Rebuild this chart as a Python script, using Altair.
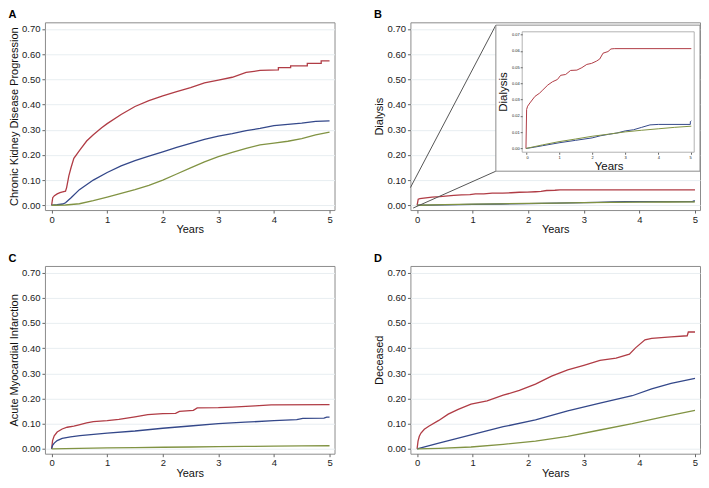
import altair as alt
import pandas as pd

# ---------------- data ----------------
# Panel A: Chronic Kidney Disease Progression
a_red_t = [0, 0.02, 0.05, 0.1, 0.15, 0.2, 0.25, 0.27, 0.31, 0.35, 0.4, 0.5, 0.63, 0.75, 0.9, 1.0, 1.25, 1.5, 1.75, 2.0, 2.25, 2.5, 2.75, 3.0, 3.25, 3.5, 3.75, 4.08, 4.08, 4.3, 4.3, 4.6, 4.6, 4.85, 4.85, 5.0]
a_red_v = [0, 0.03, 0.038, 0.045, 0.05, 0.053, 0.056, 0.07, 0.117, 0.15, 0.186, 0.217, 0.255, 0.28, 0.308, 0.324, 0.36, 0.392, 0.415, 0.434, 0.451, 0.467, 0.486, 0.497, 0.508, 0.527, 0.535, 0.537, 0.546, 0.546, 0.553, 0.553, 0.563, 0.563, 0.573, 0.573]
a_blue_t = [0, 0.1, 0.2, 0.25, 0.35, 0.5, 0.75, 1.0, 1.25, 1.5, 1.75, 2.0, 2.25, 2.5, 2.75, 3.0, 3.25, 3.5, 3.75, 4.0, 4.25, 4.5, 4.75, 5.0]
a_blue_v = [0, 0.002, 0.005, 0.01, 0.03, 0.062, 0.1, 0.13, 0.156, 0.177, 0.195, 0.212, 0.23, 0.246, 0.261, 0.274, 0.284, 0.296, 0.305, 0.316, 0.321, 0.326, 0.333, 0.335]
a_green_t = [0, 0.25, 0.5, 0.75, 1.0, 1.25, 1.5, 1.75, 2.0, 2.25, 2.5, 2.75, 3.0, 3.25, 3.5, 3.75, 4.0, 4.25, 4.5, 4.75, 5.0]
a_green_v = [0, 0.001, 0.006, 0.018, 0.032, 0.047, 0.062, 0.079, 0.1, 0.124, 0.148, 0.172, 0.193, 0.21, 0.226, 0.24, 0.247, 0.254, 0.264, 0.279, 0.29]

# Panel B: Dialysis (also shown in the inset)
b_red_t = [0, 0.02, 0.05, 0.12, 0.27, 0.41, 0.51, 0.66, 0.8, 0.95, 1.05, 1.2, 1.35, 1.54, 1.69, 1.84, 1.98, 2.13, 2.23, 2.33, 2.48, 2.57, 2.67, 5.0]
b_red_v = [0, 0.024, 0.026, 0.028, 0.032, 0.034, 0.036, 0.039, 0.041, 0.0424, 0.045, 0.0455, 0.048, 0.0482, 0.0497, 0.0517, 0.0523, 0.0537, 0.055, 0.0586, 0.0596, 0.0612, 0.0614, 0.0614]
b_blue_t = [0, 0.25, 0.5, 1.0, 1.5, 2.0, 2.25, 2.5, 2.75, 3.0, 3.25, 3.5, 3.75, 4.0, 4.97, 4.97, 5.0]
b_blue_v = [0, 0.0008, 0.0017, 0.0035, 0.005, 0.0065, 0.0078, 0.0087, 0.0095, 0.0108, 0.0115, 0.013, 0.0145, 0.0148, 0.0148, 0.0165, 0.017]
b_green_t = [0, 0.5, 1.0, 1.5, 2.0, 2.5, 3.0, 3.5, 4.0, 4.5, 5.0]
b_green_v = [0, 0.0022, 0.0042, 0.0058, 0.0075, 0.0088, 0.0102, 0.0112, 0.0121, 0.013, 0.0137]

# Panel C: Acute Myocardial Infarction
c_red_t = [0, 0.017, 0.047, 0.1, 0.19, 0.28, 0.4, 0.51, 0.63, 0.75, 1.0, 1.21, 1.5, 1.73, 2.0, 2.23, 2.3, 2.55, 2.62, 3.0, 3.25, 3.66, 3.95, 5.0]
c_red_v = [0, 0.033, 0.052, 0.067, 0.079, 0.086, 0.09, 0.096, 0.103, 0.108, 0.112, 0.117, 0.127, 0.136, 0.14, 0.141, 0.149, 0.153, 0.163, 0.164, 0.166, 0.171, 0.175, 0.176]
c_blue_t = [0, 0.017, 0.047, 0.1, 0.19, 0.34, 0.51, 1.0, 1.5, 2.0, 2.49, 3.0, 3.48, 4.0, 4.41, 4.52, 4.9, 4.95, 5.0]
c_blue_v = [0, 0.014, 0.023, 0.033, 0.042, 0.048, 0.053, 0.063, 0.071, 0.082, 0.091, 0.1, 0.106, 0.112, 0.116, 0.121, 0.122, 0.126, 0.126]
c_green_t = [0, 0.5, 1.0, 1.5, 2.0, 2.5, 3.0, 3.5, 4.0, 4.5, 5.0]
c_green_v = [0, 0.002, 0.004, 0.005, 0.0065, 0.0075, 0.0088, 0.0098, 0.011, 0.012, 0.0125]

# Panel D: Deceased
d_red_t = [0, 0.017, 0.04, 0.07, 0.13, 0.21, 0.39, 0.56, 0.74, 0.97, 1.26, 1.55, 1.84, 2.13, 2.42, 2.71, 3.0, 3.29, 3.58, 3.82, 3.93, 4.1, 4.22, 4.57, 4.86, 4.88, 5.0]
d_red_v = [0, 0.031, 0.05, 0.063, 0.078, 0.09, 0.113, 0.138, 0.157, 0.178, 0.191, 0.213, 0.232, 0.257, 0.289, 0.314, 0.332, 0.351, 0.36, 0.376, 0.401, 0.433, 0.439, 0.445, 0.449, 0.464, 0.464]
d_blue_t = [0, 0.39, 0.97, 1.55, 2.13, 2.71, 3.29, 3.87, 4.22, 4.57, 5.0]
d_blue_v = [0, 0.023, 0.056, 0.088, 0.115, 0.151, 0.182, 0.211, 0.238, 0.26, 0.28]
d_green_t = [0, 0.39, 0.97, 1.55, 2.13, 2.71, 3.29, 3.87, 4.45, 5.0]
d_green_v = [0, 0.0025, 0.0075, 0.018, 0.031, 0.05, 0.075, 0.1, 0.128, 0.153]

groups = ["red", "blue", "green"]
group_colors = ["#b03c45", "#34488a", "#819343"]
x_ticks = [0, 1, 2, 3, 4, 5]
y_ticks = [0.0, 0.1, 0.2, 0.3, 0.4, 0.5, 0.6, 0.7]
inset_y_ticks = [0.0, 0.01, 0.02, 0.03, 0.04, 0.05, 0.06, 0.07]

# ---------------- layout ----------------
FONT = "Liberation Sans"
W, H = 290, 188
XDOM = [-0.12, 5.09]
YDOM = [-0.019, 0.726]
FRAME = "#8c8c8c"


def long_df(series):
    rows = []
    for name, t, v in series:
        for i, (a, b) in enumerate(zip(t, v)):
            rows.append({"t": a, "v": b, "g": name, "i": i})
    return pd.DataFrame(rows)


color = alt.Color("g:N", scale=alt.Scale(domain=groups, range=group_colors), legend=None)
xscale = alt.Scale(domain=XDOM, nice=False, zero=False)
yscale = alt.Scale(domain=YDOM, nice=False, zero=False)


def x_axis():
    return alt.Axis(values=x_ticks, format="d", grid=False, title="Years", orient="bottom")


def y_axis(title):
    return alt.Axis(values=y_ticks, format=".2f", grid=True, title=title, orient="left")


def lines(df, ytitle):
    return alt.Chart(df).mark_line(strokeWidth=1.3, clip=True).encode(
        x=alt.X("t:Q", scale=xscale, axis=x_axis()),
        y=alt.Y("v:Q", scale=yscale, axis=y_axis(ytitle)),
        color=color,
        order="i:Q",
    )


def letter(s):
    return alt.Title(s, anchor="start", fontSize=11, fontWeight="bold", offset=2, font=FONT, color="#000")


dfA = long_df([("red", a_red_t, a_red_v), ("blue", a_blue_t, a_blue_v), ("green", a_green_t, a_green_v)])
dfB = long_df([("red", b_red_t, b_red_v), ("blue", b_blue_t, b_blue_v), ("green", b_green_t, b_green_v)])
dfC = long_df([("red", c_red_t, c_red_v), ("blue", c_blue_t, c_blue_v), ("green", c_green_t, c_green_v)])
dfD = long_df([("red", d_red_t, d_red_v), ("blue", d_blue_t, d_blue_v), ("green", d_green_t, d_green_v)])

panelA = lines(dfA, "Chronic Kidney Disease Progression").properties(width=W, height=H, title=letter("A"))
panelC = lines(dfC, "Acute Myocardial Infarction").properties(width=W, height=H, title=letter("C"))
panelD = lines(dfD, "Deceased").properties(width=W, height=H, title=letter("D"))

# ---- panel B with inset ----
# inset geometry as fractions of the plot area
box_x0, box_x1, box_y0, box_y1 = 0.295 * W, 1.0 * W, 0.015 * H, 0.793 * H
in_x0, in_x1, in_y0, in_y1 = 0.386 * W, 0.980 * W, 0.0505 * H, 0.692 * H
rng_x0, rng_x1 = 0.399 * W, 0.970 * W
rng_y0, rng_y1 = 0.672 * H, 0.0657 * H


def px_to_x(px):
    return XDOM[0] + px / W * (XDOM[1] - XDOM[0])


def px_to_y(py):
    return YDOM[1] - py / H * (YDOM[1] - YDOM[0])


zoom_df = pd.DataFrame({
    "x": [XDOM[0], -0.07],
    "y": [0.07, -0.011],
    "x2": [px_to_x(box_x0), px_to_x(box_x0)],
    "y2": [px_to_y(box_y0), px_to_y(box_y1)],
})

outerB = lines(dfB, "Dialysis")
zoom_rules = alt.Chart(zoom_df).mark_rule(color="#555555", strokeWidth=1).encode(
    x=alt.X("x:Q", scale=xscale, axis=x_axis()),
    x2="x2:Q",
    y=alt.Y("y:Q", scale=yscale, axis=y_axis("Dialysis")),
    y2="y2:Q",
)
one = pd.DataFrame({"k": [0]})
box = alt.Chart(one).mark_rect(fill="white", stroke=FRAME, strokeWidth=1).encode(
    x=alt.value(box_x0), x2=alt.value(box_x1), y=alt.value(box_y0), y2=alt.value(box_y1)
)
inner = alt.Chart(one).mark_rect(fill="white", stroke="#a0a0a0", strokeWidth=0.8).encode(
    x=alt.value(in_x0), x2=alt.value(in_x1), y=alt.value(in_y0), y2=alt.value(in_y1)
)
inset_lines = alt.Chart(dfB).mark_line(strokeWidth=1, clip=False).encode(
    x=alt.X("t:Q", scale=alt.Scale(domain=[0, 5], range=[rng_x0, rng_x1], nice=False, zero=False),
            axis=alt.Axis(values=x_ticks, format="d", grid=False, orient="bottom", offset=-(H - in_y1),
                          title="Years", titleFontSize=11.5, titlePadding=1, labelFontSize=4, tickSize=2,
                          labelPadding=1, domain=False, zindex=1)),
    y=alt.Y("v:Q", scale=alt.Scale(domain=[0, 0.07], range=[rng_y0, rng_y1], nice=False, zero=False),
            axis=alt.Axis(values=inset_y_ticks, format=".2f", grid=False, orient="left", offset=-in_x0,
                          title="Dialysis", titleFontSize=11.5, titlePadding=3, labelFontSize=4, tickSize=2,
                          labelPadding=1, domain=False, zindex=1)),
    color=color,
    order="i:Q",
)

panelB = alt.layer(
    alt.layer(outerB, zoom_rules),
    alt.layer(box, inner, inset_lines),
).resolve_scale(x="independent", y="independent").properties(width=W, height=H, title=letter("B"))

chart = alt.vconcat(
    alt.hconcat(panelA, panelB, spacing=38),
    alt.hconcat(panelC, panelD, spacing=38),
    spacing=17,
).properties(
    padding={"left": 0, "top": 0, "right": 0, "bottom": 0},
    background="white",
).configure_view(
    stroke=FRAME, strokeWidth=1
).configure_axis(
    labelFont=FONT, titleFont=FONT, labelFontSize=9.5, titleFontSize=11,
    labelColor="#222222", titleColor="#111111", titleFontWeight="normal",
    tickColor="#666666", tickSize=3, domain=False,
    gridColor="#e8eef1", gridWidth=1,
).configure_axisLeft(
    labelPadding=2, titlePadding=2
).configure_axisBottom(
    labelPadding=1, titlePadding=0
).configure_title(font=FONT)

chart.save("out.html", embed_options={"renderer": "svg", "actions": False})
